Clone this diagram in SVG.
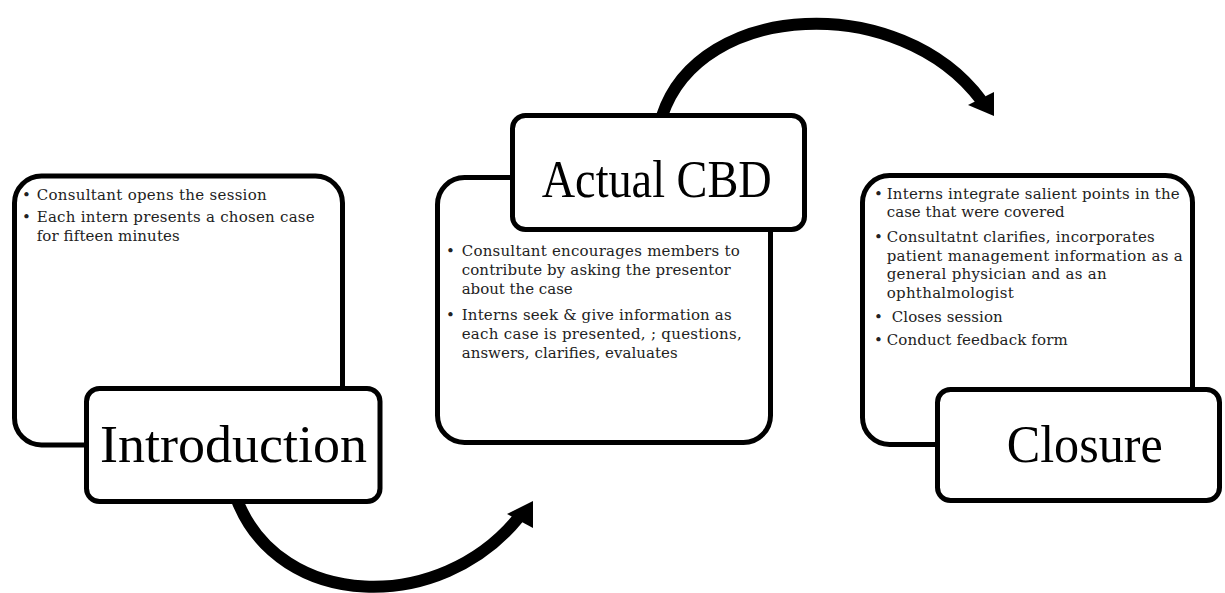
<svg xmlns="http://www.w3.org/2000/svg" width="1225" height="593" viewBox="0 0 1225 593">
<style>
.box{fill:#fff;stroke:#000;stroke-width:5}
.lbl{fill:#fff;stroke:#000;stroke-width:5}
.title{font-family:"Liberation Serif","Times New Roman",serif;font-size:52px;fill:#000}
.body{font-family:"DejaVu Serif","Liberation Serif",serif;font-size:15px;fill:#222}
.arc{fill:none;stroke:#000;stroke-width:12}
.head{fill:#000}
</style>
<rect width="1225" height="593" fill="#fff"/>
<g id="connectors">
<path class="arc" d="M237,500 C280,610 440,615 519,517"/>
<polygon class="head" points="533,501 533,528 507,514"/>
<path class="arc" d="M662,116 C700,0 900,-8 981,100"/>
<polygon class="head" points="994,116 994,92 968,105"/>
</g>
<g id="introduction">
<rect class="box" x="14.5" y="176" width="328" height="269" rx="27"/>
<text class="body" x="22" y="199.5">•</text>
<text class="body" x="36.7" y="199.5" textLength="230" lengthAdjust="spacing">Consultant  opens the session</text>
<text class="body" x="22" y="221.5">•</text>
<text class="body" x="36.7" y="221.5" textLength="278" lengthAdjust="spacing">Each intern presents a chosen case</text>
<text class="body" x="36.7" y="240.5" textLength="143" lengthAdjust="spacing">for fifteen minutes</text>
<rect class="lbl" x="86.5" y="388.5" width="293.5" height="113" rx="13"/>
<text class="title" x="100" y="462" textLength="267" lengthAdjust="spacingAndGlyphs">Introduction</text>
</g>
<g id="actual-cbd">
<rect class="box" x="437.5" y="177.5" width="333" height="265" rx="27"/>
<rect class="lbl" x="512.5" y="115.5" width="292" height="114" rx="13"/>
<text class="title" x="541.7" y="197" textLength="230" lengthAdjust="spacingAndGlyphs">Actual CBD</text>
<text class="body" x="446" y="256">•</text>
<text class="body" x="461.7" y="256" textLength="278" lengthAdjust="spacing">Consultant  encourages  members to</text>
<text class="body" x="461.7" y="275" textLength="269" lengthAdjust="spacing">contribute  by asking the presentor</text>
<text class="body" x="461.7" y="294" textLength="111" lengthAdjust="spacing">about the case</text>
<text class="body" x="446" y="320">•</text>
<text class="body" x="461.7" y="320" textLength="270" lengthAdjust="spacing">Interns seek &amp; give information as</text>
<text class="body" x="461.7" y="339" textLength="280" lengthAdjust="spacing">each case is presented,  ; questions,</text>
<text class="body" x="461.7" y="358" textLength="216" lengthAdjust="spacing">answers, clarifies, evaluates</text>
</g>
<g id="closure">
<rect class="box" x="862.5" y="175.5" width="330" height="269" rx="27"/>
<text class="body" x="874" y="198.5">•</text>
<text class="body" x="886.7" y="198.5" textLength="293" lengthAdjust="spacing">Interns  integrate  salient points in the</text>
<text class="body" x="886.7" y="217" textLength="178" lengthAdjust="spacing">case that were  covered</text>
<text class="body" x="874" y="242">•</text>
<text class="body" x="886.7" y="242" textLength="268" lengthAdjust="spacing">Consultatnt   clarifies, incorporates</text>
<text class="body" x="886.7" y="260.5" textLength="296" lengthAdjust="spacing">patient  management  information  as a</text>
<text class="body" x="886.7" y="279" textLength="220" lengthAdjust="spacing">general  physician and  as an</text>
<text class="body" x="886.7" y="297.5" textLength="127" lengthAdjust="spacing">ophthalmologist</text>
<text class="body" x="874" y="322">•</text>
<text class="body" x="891.7" y="322" textLength="111" lengthAdjust="spacing">Closes session</text>
<text class="body" x="874" y="345">•</text>
<text class="body" x="886.7" y="345" textLength="181" lengthAdjust="spacing">Conduct feedback form</text>
<rect class="lbl" x="937.5" y="389.5" width="282" height="111" rx="13"/>
<text class="title" x="1006.7" y="462" textLength="156" lengthAdjust="spacingAndGlyphs">Closure</text>
</g>
</svg>
